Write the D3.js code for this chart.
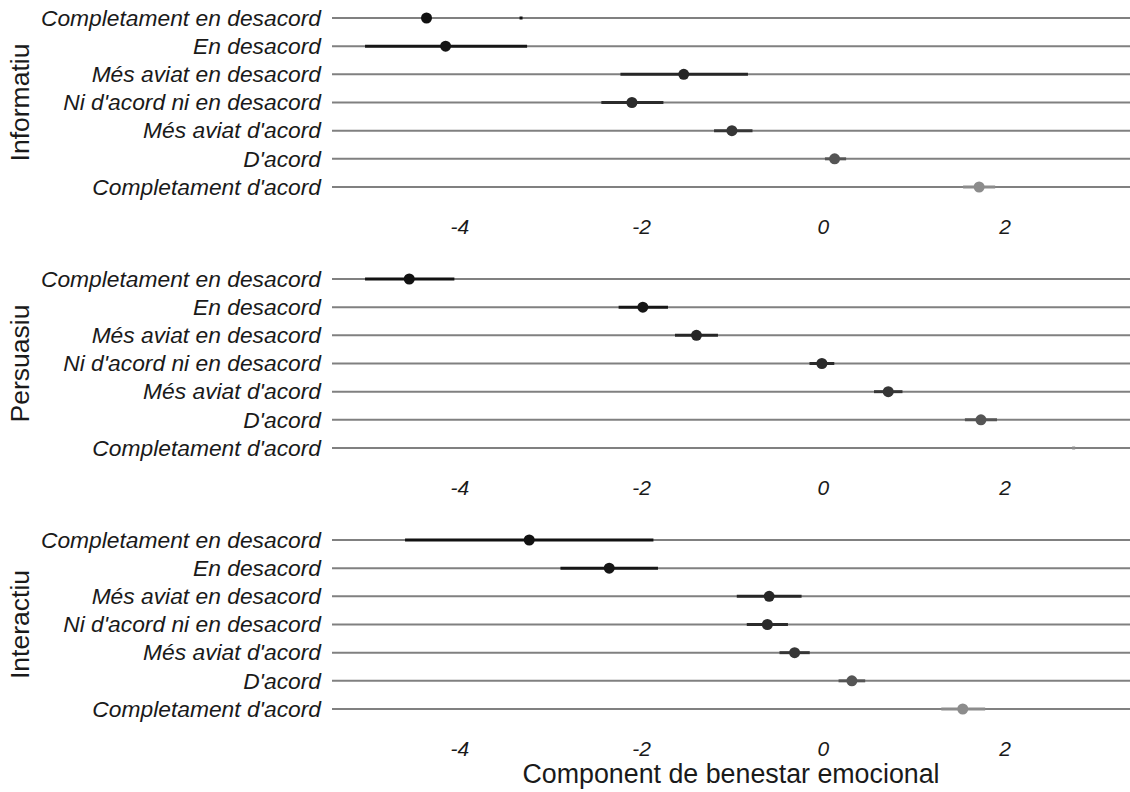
<!DOCTYPE html>
<html lang="ca">
<head>
<meta charset="UTF-8">
<title>Component de benestar emocional</title>
<script src="https://d3js.org/d3.v7.min.js"></script>
<style>
  body { margin: 0; background: #fff; }
  svg { display: block; }
  text { font-family: "Liberation Sans", Arial, sans-serif; fill: #1a1a1a; }
  .cat text, .xax text { font-style: italic; }
</style>
</head>
<body>
<script>
// categories (top to bottom) and facets
const categories = ["Completament en desacord", "En desacord", "Més aviat en desacord",
  "Ni d'acord ni en desacord", "Més aviat d'acord", "D'acord", "Completament d'acord"]
const panels = ["Informatiu", "Persuasiu", "Interactiu"]
const xTicks = [-4, -2, 0, 2]

// estimates and interval ends, one array per panel
const informatiuEst = [-4.36, -4.15, -1.53, -2.10, -1.00, 0.13, 1.72]
const informatiuLo  = [-3.32, -5.02, -2.21, -2.42, -1.18, 0.04, 1.56]
const informatiuHi  = [-3.32, -3.27, -0.84, -1.77, -0.79, 0.24, 1.88]

const persuasiuEst = [-4.55, -1.98, -1.39, -0.01, 0.72, 1.74, null]
const persuasiuLo  = [-5.02, -2.23, -1.61, -0.13, 0.58, 1.58, 2.76]
const persuasiuHi  = [-4.07, -1.72, -1.17, 0.11, 0.86, 1.90, 2.76]

const interactiuEst = [-3.23, -2.35, -0.59, -0.61, -0.31, 0.32, 1.54]
const interactiuLo  = [-4.58, -2.87, -0.93, -0.82, -0.46, 0.19, 1.32]
const interactiuHi  = [-1.88, -1.83, -0.25, -0.40, -0.16, 0.45, 1.77]

const panelData = [
  [informatiuEst, informatiuLo, informatiuHi],
  [persuasiuEst, persuasiuLo, persuasiuHi],
  [interactiuEst, interactiuLo, interactiuHi]
]

const width = 1130
const height = 792
const left = 332
const firstRow = 18
const rowSpan = 169
const panelStep = 261

const svg = d3.select("body").append("svg")
  .attr("width", width)
  .attr("height", height)

const x = d3.scaleLinear().domain([-5.4, 3.38]).range([left, width])

const shade = d3.scaleOrdinal()
  .domain(categories)
  .range(["#111", "#161616", "#262626", "#2b2b2b", "#363636", "#555", "#8c8c8c"])

panels.forEach((p, pi) => {
  const top = firstRow + pi * panelStep
  const y = d3.scalePoint().domain(categories).range([top, top + rowSpan])
  const [est, lo, hi] = panelData[pi]
  const g = svg.append("g")

  // horizontal guide lines
  g.selectAll(".grid")
    .data(categories)
    .enter()
    .append("line")
    .attr("x1", left).attr("x2", width)
    .attr("y1", d => y(d)).attr("y2", d => y(d))
    .attr("stroke", "#808080")
    .attr("stroke-width", 2)

  // category labels
  const yAx = g.append("g")
    .attr("class", "cat")
    .attr("transform", `translate(${left},0)`)
    .call(d3.axisLeft(y).tickSize(0).tickPadding(11))
  yAx.select(".domain").remove()
  yAx.selectAll("text").style("font-size", "22.8px").attr("fill", "#1a1a1a")

  // intervals
  g.selectAll(".ci")
    .data(categories)
    .enter()
    .append("line")
    .attr("x1", (d, i) => x(lo[i]))
    .attr("x2", (d, i) => x(hi[i]))
    .attr("y1", d => y(d)).attr("y2", d => y(d))
    .attr("stroke", d => shade(d))
    .attr("stroke-width", 3)
    .attr("stroke-linecap", "square")

  // estimates
  g.selectAll(".pt")
    .data(categories.filter((d, i) => est[i] !== null))
    .enter()
    .append("circle")
    .attr("cx", d => x(est[categories.indexOf(d)]))
    .attr("cy", d => y(d))
    .attr("r", 5.5)
    .attr("fill", d => shade(d))

  // x tick labels under each panel
  const xAx = g.append("g")
    .attr("class", "xax")
    .attr("transform", `translate(0,${top + rowSpan + 32})`)
    .call(d3.axisBottom(x).tickValues(xTicks).tickSize(0).tickPadding(0)
      .tickFormat(d => String(d)))
  xAx.select(".domain").remove()
  xAx.selectAll("text").style("font-size", "21px").attr("fill", "#1a1a1a")

  // facet title
  svg.append("text")
    .attr("transform", `translate(29,${top + rowSpan / 2}) rotate(-90)`)
    .attr("text-anchor", "middle")
    .style("font-size", "26.5px")
    .text(p)
})

svg.append("text")
  .attr("x", (left + width) / 2)
  .attr("y", 783)
  .attr("text-anchor", "middle")
  .style("font-size", "26.8px")
  .text("Component de benestar emocional")
</script>
</body>
</html>
